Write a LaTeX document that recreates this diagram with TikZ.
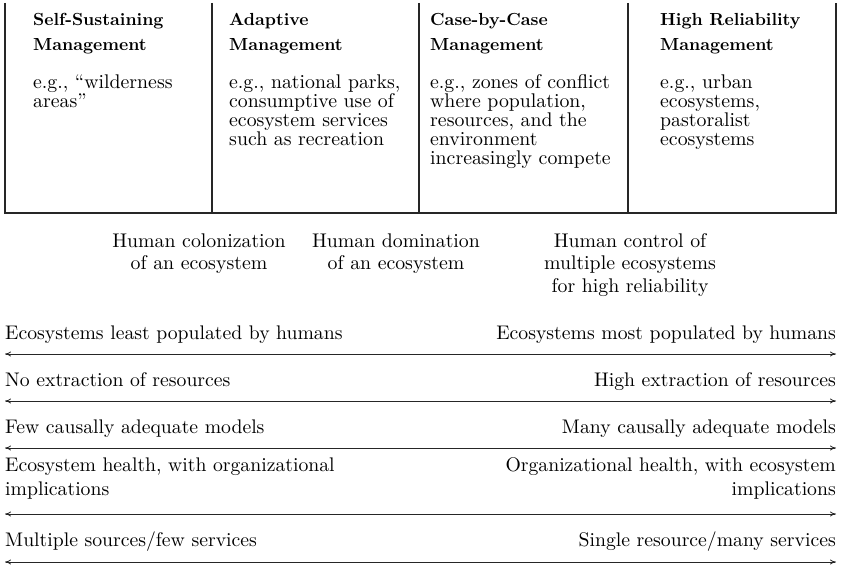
\documentclass[tikz,border=0pt]{standalone}
\usepackage{fontspec}
\setmainfont{lmroman10-regular.otf}[BoldFont=lmroman10-bold.otf]
\usetikzlibrary{arrows.meta}
\begin{document}
\begin{tikzpicture}[x=1pt,y=-1pt,
  rule/.style={line width=1.3pt,black!85},
  head/.style={font=\fontsize{17.5}{25}\selectfont\bfseries,align=left,anchor=base west,inner sep=0pt},
  body/.style={font=\fontsize{19.8}{19.2}\selectfont,align=left,anchor=base west,inner sep=0pt},
  stage/.style={font=\fontsize{19.8}{22.5}\selectfont,align=center,anchor=base,inner sep=0pt},
  endl/.style={font=\fontsize{19.7}{24}\selectfont,align=left,anchor=base west,inner sep=0pt},
  endr/.style={font=\fontsize{19.7}{24}\selectfont,align=right,anchor=base east,inner sep=0pt},
  spanarrow/.style={line width=0.8pt,black!85,{To[length=6pt,width=5pt]}-{To[length=6pt,width=5pt]}}]
\useasboundingbox (0,0) rectangle (841,586);

% table of management types (multi-line nodes sit on their last baseline)
\draw[rule] (5,3) -- (5,213) -- (836,213) -- (836,3);
\foreach \xx in {212,419,628} \draw[rule] (\xx,3) -- (\xx,213);

\node[head] (h1) at (33,51) {Self-Sustaining\\Management};
\node[head] (h2) at (229,51) {Adaptive\\Management};
\node[head] (h3) at (430,51) {Case-by-Case\\Management};
\node[head] (h4) at (660,51) {High Reliability\\Management};

\node[body] (b1) at (33,107.2) {e.g., “wilderness\\areas”};
\node[body] (b2) at (229,145.6) {e.g., national parks,\\consumptive use of\\ecosystem services\\such as recreation};
\node[body] (b3) at (430,164.8) {e.g., zones of conflict\\where population,\\resources, and the\\environment\\increasingly compete};
\node[body] (b4) at (660,145.6) {e.g., urban\\ecosystems,\\pastoralist\\ecosystems};

% stages between the types
\node[stage] (s1) at (199,269.5) {Human colonization\\of an ecosystem};
\node[stage] (s2) at (396,269.5) {Human domination\\of an ecosystem};
\node[stage] (s3) at (630,292) {Human control of\\multiple ecosystems\\for high reliability};

% continua
\node[endl] (l1) at (5,339) {Ecosystems least populated by humans};
\node[endr] (r1) at (836,339) {Ecosystems most populated by humans};
\coordinate (a1l) at (5,354); \coordinate (a1r) at (836,354);
\draw[spanarrow] (a1l) -- (a1r);

\node[endl] (l2) at (5,386) {No extraction of resources};
\node[endr] (r2) at (836,386) {High extraction of resources};
\coordinate (a2l) at (5,401); \coordinate (a2r) at (836,401);
\draw[spanarrow] (a2l) -- (a2r);

\node[endl] (l3) at (5,433) {Few causally adequate models};
\node[endr] (r3) at (836,433) {Many causally adequate models};
\coordinate (a3l) at (5,448); \coordinate (a3r) at (836,448);
\draw[spanarrow] (a3l) -- (a3r);

\node[endl] (l4) at (5,495) {Ecosystem health, with organizational\\implications};
\node[endr] (r4) at (836,495) {Organizational health, with ecosystem\\implications};
\coordinate (a4l) at (5,514); \coordinate (a4r) at (836,514);
\draw[spanarrow] (a4l) -- (a4r);

\node[endl] (l5) at (5,546) {Multiple sources/few services};
\node[endr] (r5) at (836,546) {Single resource/many services};
\coordinate (a5l) at (5,562); \coordinate (a5r) at (836,562);
\draw[spanarrow] (a5l) -- (a5r);
\end{tikzpicture}
\end{document}
